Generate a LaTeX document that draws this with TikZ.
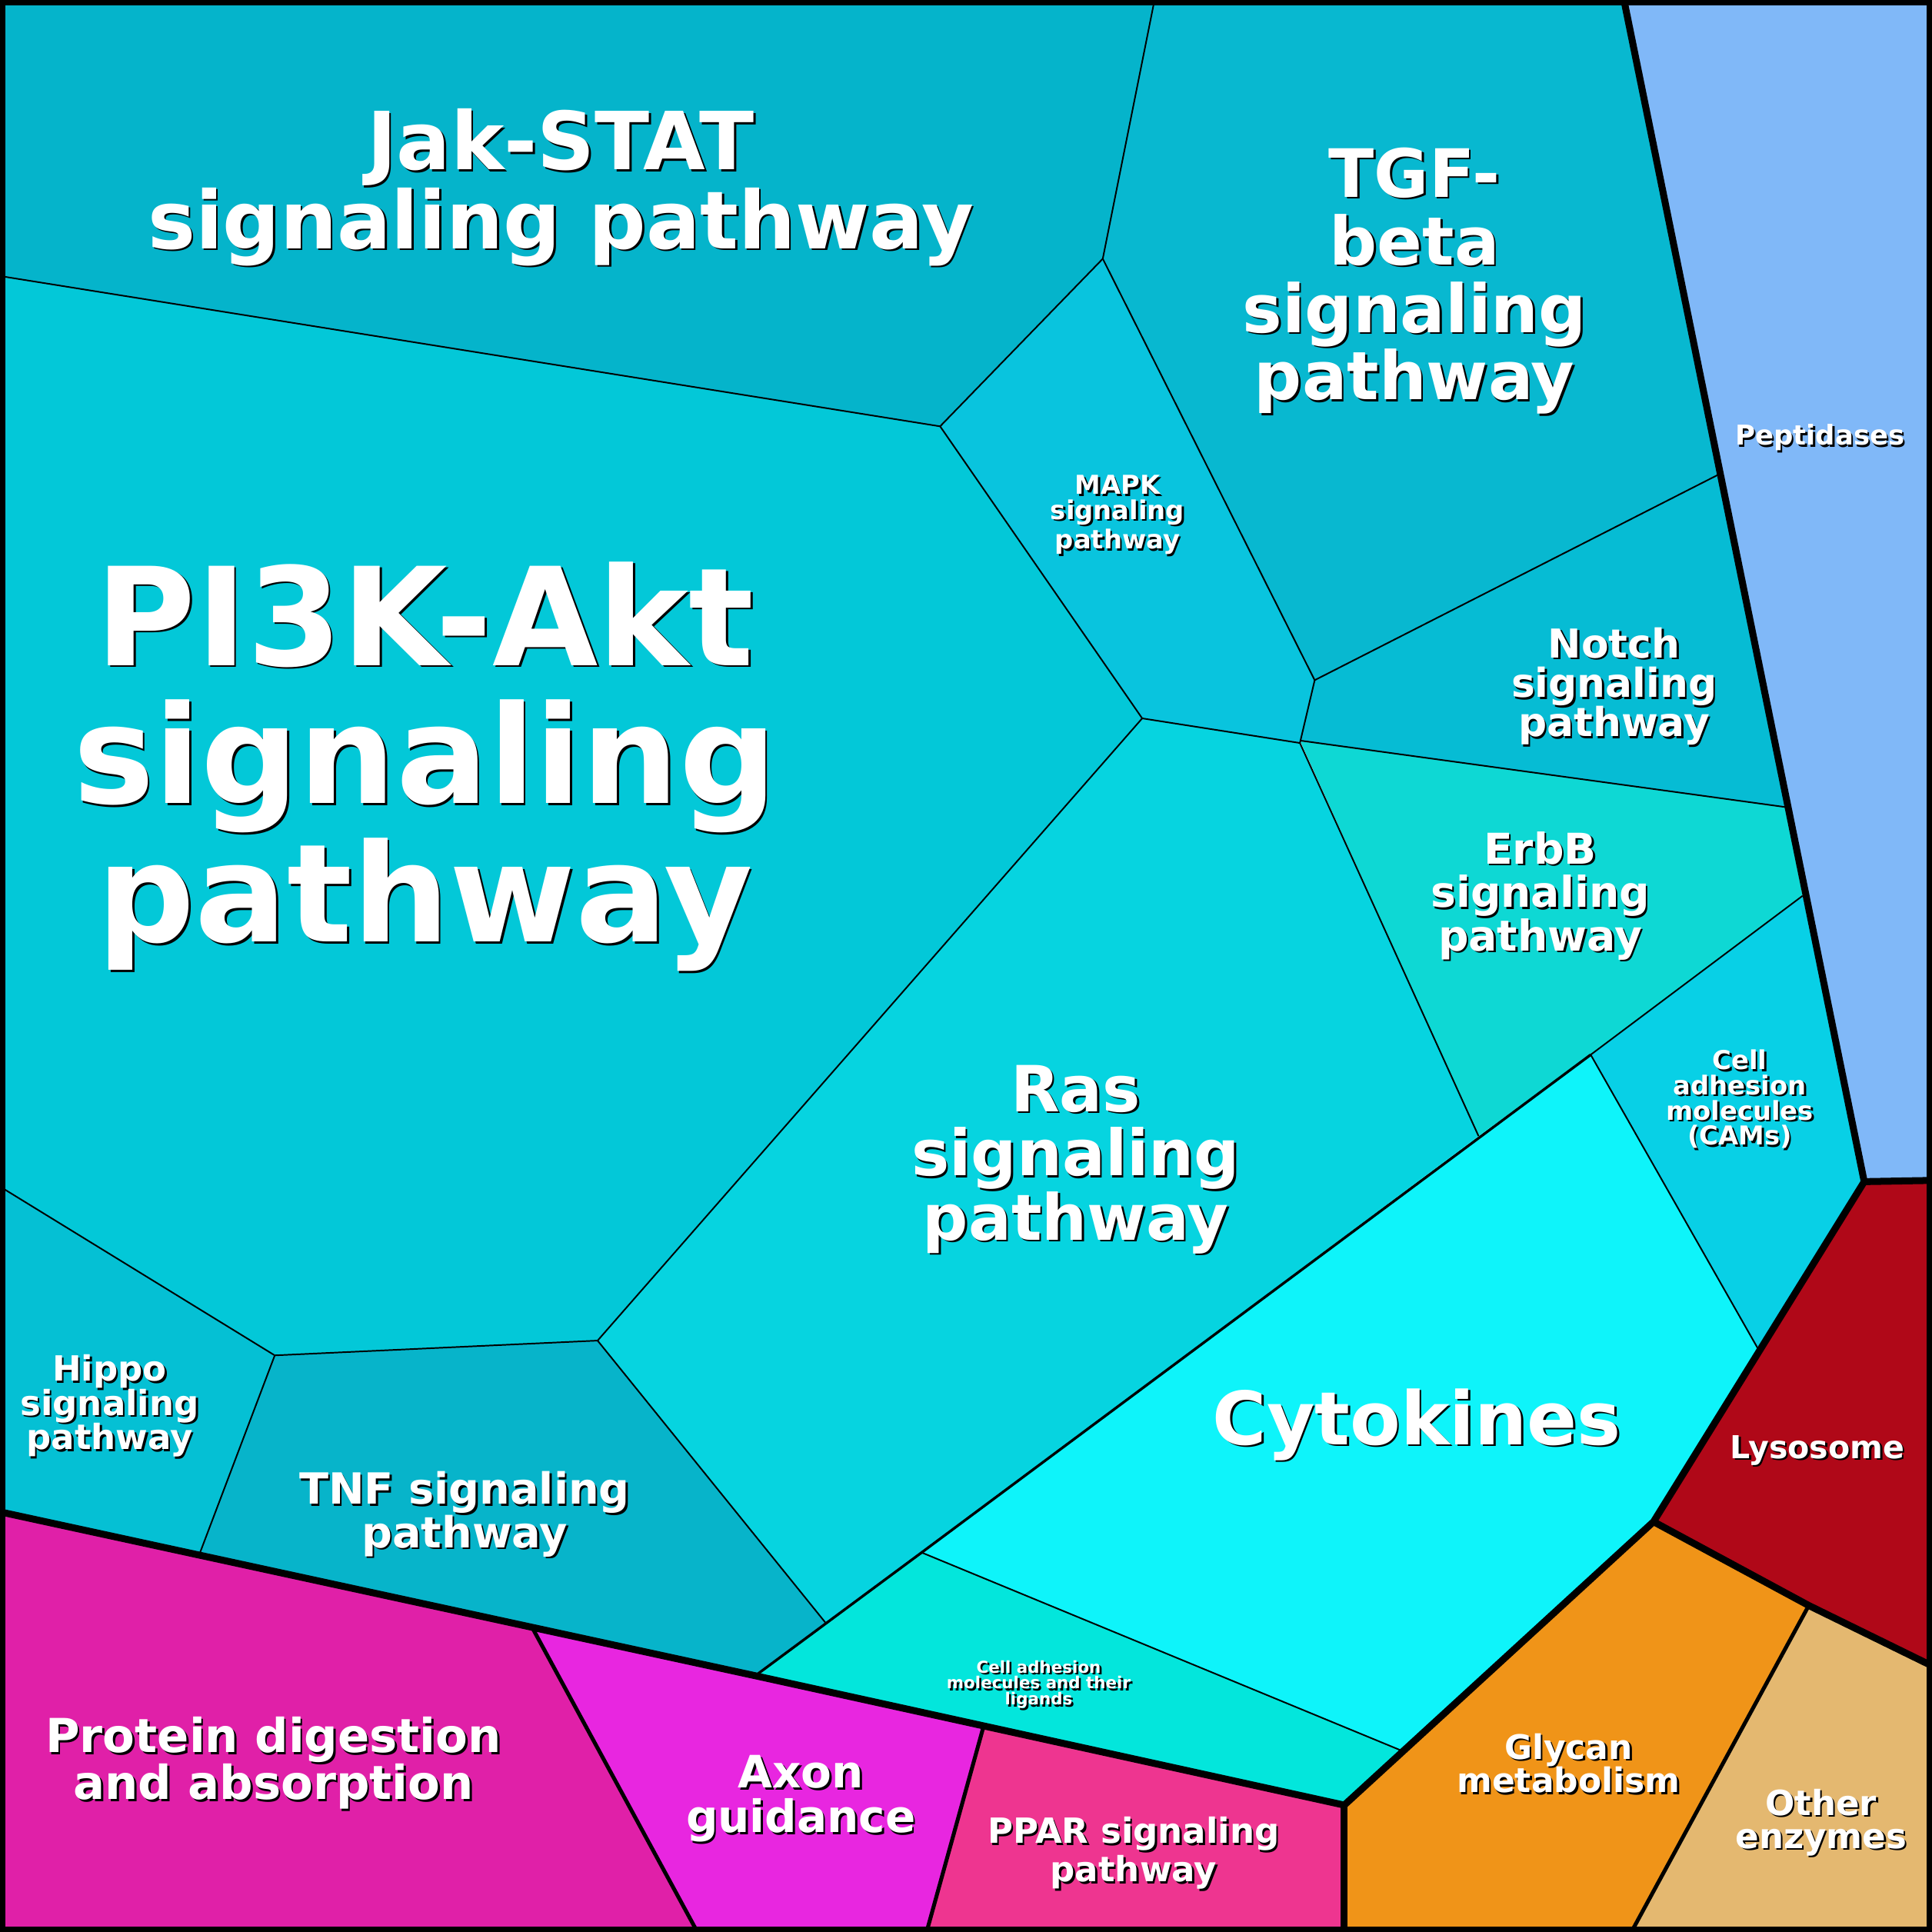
\documentclass[tikz,border=0pt]{standalone}
\usepackage{fontspec}
\setmainfont{DejaVu Sans}
\begin{document}
\begin{tikzpicture}[x=0.01cm,y=-0.01cm,
  cell/.style={draw=black,line width=0.35pt,line join=round},
  grp/.style={draw=black,line width=1.6pt,line join=round},
  lbl/.style={align=center,inner sep=0pt,text=white}]
\newcommand\lab[5]{%
  \node[lbl,text=black,xshift=0.45pt,yshift=-0.45pt,font=\bfseries\fontsize{#3}{#4}\selectfont] at #2 {#5};
  \node[lbl,font=\bfseries\fontsize{#3}{#4}\selectfont] (#1) at #2 {#5};}
\useasboundingbox (0,0) rectangle (1568,1568);
\definecolor{cJak}{HTML}{05B4CB}\definecolor{cTGF}{HTML}{08B8D0}
\definecolor{cPI}{HTML}{03C8D8}\definecolor{cMAPK}{HTML}{09C4DE}
\definecolor{cNotch}{HTML}{06BCD4}\definecolor{cErb}{HTML}{0ED8D4}
\definecolor{cCAM}{HTML}{08D0E6}\definecolor{cRas}{HTML}{06D4E0}
\definecolor{cCyt}{HTML}{0EF4FA}\definecolor{cCal}{HTML}{03E6DC}
\definecolor{cHip}{HTML}{05C0D4}\definecolor{cTNF}{HTML}{07B4CA}
\definecolor{cProt}{HTML}{E020A8}\definecolor{cAxon}{HTML}{E826E0}
\definecolor{cPPAR}{HTML}{EE3590}\definecolor{cGly}{HTML}{F09418}
\definecolor{cOth}{HTML}{E4B870}\definecolor{cLys}{HTML}{B00818}
\definecolor{cPep}{HTML}{80B8F8}
\fill[cJak] (0,0)--(937,0)--(895,210)--(763,346)--(0,224)--cycle;
\fill[cTGF] (937,0)--(1318,0)--(1395,385)--(1067,552)--(895,210)--cycle;
\fill[cPep] (1318,0)--(1568,0)--(1568,958)--(1513,959)--cycle;
\fill[cMAPK] (895,210)--(1067,552)--(1055,603)--(927,583)--(763,346)--cycle;
\fill[cPI] (0,224)--(763,346)--(927,583)--(485,1088)--(223,1100)--(0,963)--cycle;
\fill[cNotch] (1395,385)--(1449,655)--(1055,601)--(1067,552)--cycle;
\fill[cErb] (1055,601)--(1449,655)--(1463,727)--(1291,856)--(1200,922)--cycle;
\fill[cCAM] (1463,727)--(1513,959)--(1427,1095)--(1291,856)--cycle;
\fill[cRas] (927,583)--(1055,603)--(1200,922)--(748,1260)--(670,1317)--(485,1088)--cycle;
\fill[cCyt] (1200,922)--(1291,856)--(1427,1095)--(1342,1235)--(1138,1421)--(748,1260)--cycle;
\fill[cCal] (748,1260)--(1138,1421)--(1091,1465)--(613,1360)--cycle;
\fill[cHip] (0,963)--(223,1100)--(162,1261)--(0,1227)--cycle;
\fill[cTNF] (223,1100)--(485,1088)--(670,1317)--(613,1360)--(432,1321)--(162,1261)--cycle;
\fill[cProt] (0,1227)--(432,1321)--(566,1568)--(0,1568)--cycle;
\fill[cAxon] (432,1321)--(613,1360)--(798,1402)--(752,1568)--(566,1568)--cycle;
\fill[cPPAR] (798,1402)--(1091,1465)--(1091,1568)--(752,1568)--cycle;
\fill[cGly] (1091,1465)--(1342,1235)--(1468,1303)--(1324,1568)--(1091,1568)--cycle;
\fill[cOth] (1468,1303)--(1568,1352)--(1568,1568)--(1324,1568)--cycle;
\fill[cLys] (1513,959)--(1568,958)--(1568,1352)--(1468,1303)--(1342,1235)--(1427,1095)--cycle;
% thin edges
\draw[cell] (0,224)--(763,346)--(895,210)--(937,0);
\draw[cell] (895,210)--(1067,552)--(1395,385);
\draw[cell] (763,346)--(927,583)--(1055,603)--(1067,552);
\draw[cell] (927,583)--(485,1088)--(223,1100)--(0,963);
\draw[cell] (1055,601)--(1449,655);
\draw[cell] (1055,603)--(1200,922);
\draw[cell] (1463,727)--(1291,856)--(1427,1095);
\draw[cell] (223,1100)--(162,1261);
\draw[cell] (485,1088)--(670,1317);
\draw[cell] (748,1260)--(1138,1421);
\draw[cell,line width=0.6pt] (1291,856)--(748,1260)--(613,1360);
\draw[cell,line width=0.9pt] (432,1321)--(566,1568);
\draw[cell,line width=0.9pt] (798,1402)--(752,1568);
\draw[cell,line width=0.9pt] (1468,1303)--(1324,1568);
% group edges
\draw[grp] (1318,0)--(1513,959)--(1568,958);
\draw[grp] (1513,959)--(1342,1235)--(1091,1465)--(613,1360)--(0,1227);
\draw[grp] (1342,1235)--(1468,1303)--(1568,1352);
\draw[grp] (1091,1465)--(1091,1568);
\draw[line width=2.6pt] (0,0) rectangle (1568,1568);
% labels
\lab{jak}{(455,152)}{18.5}{18.2}{Jak-STAT\\signaling pathway}
\lab{tgf}{(1148,228)}{15.4}{15.6}{TGF-\\beta\\signaling\\pathway}
\lab{pi}{(345,622)}{31.5}{31.9}{PI3K-Akt\\signaling\\pathway}
\lab{mapk}{(907,418)}{6}{5.8}{MAPK\\signaling\\pathway}
\lab{pep}{(1477,355)}{6.3}{6.5}{Peptidases}
\lab{notch}{(1310,557)}{9.2}{9.1}{Notch\\signaling\\pathway}
\lab{erb}{(1250,727)}{9.8}{10}{ErbB\\signaling\\pathway}
\lab{cam}{(1412,892)}{6}{5.8}{Cell\\adhesion\\molecules\\(CAMs)}
\lab{ras}{(873,941)}{14.7}{14.8}{Ras\\signaling\\pathway}
\lab{cyt}{(1150,1156)}{17}{18}{Cytokines}
\lab{lys}{(1475,1177)}{7.3}{7.6}{Lysosome}
\lab{hip}{(89,1141)}{8}{7.9}{Hippo\\signaling\\pathway}
\lab{tnf}{(377,1229)}{9.9}{10}{TNF signaling\\pathway}
\lab{cal}{(843,1367)}{3.8}{3.7}{Cell adhesion\\molecules and their\\ligands}
\lab{prot}{(222,1431)}{10.8}{10.8}{Protein digestion\\and absorption}
\lab{axon}{(650,1460)}{10.3}{10.3}{Axon\\guidance}
\lab{ppar}{(920,1504)}{8}{7.7}{PPAR signaling\\pathway}
\lab{gly}{(1273,1431)}{7.8}{7.7}{Glycan\\metabolism}
\lab{oth}{(1478,1479)}{8}{7.7}{Other\\enzymes}
\end{tikzpicture}
\end{document}
